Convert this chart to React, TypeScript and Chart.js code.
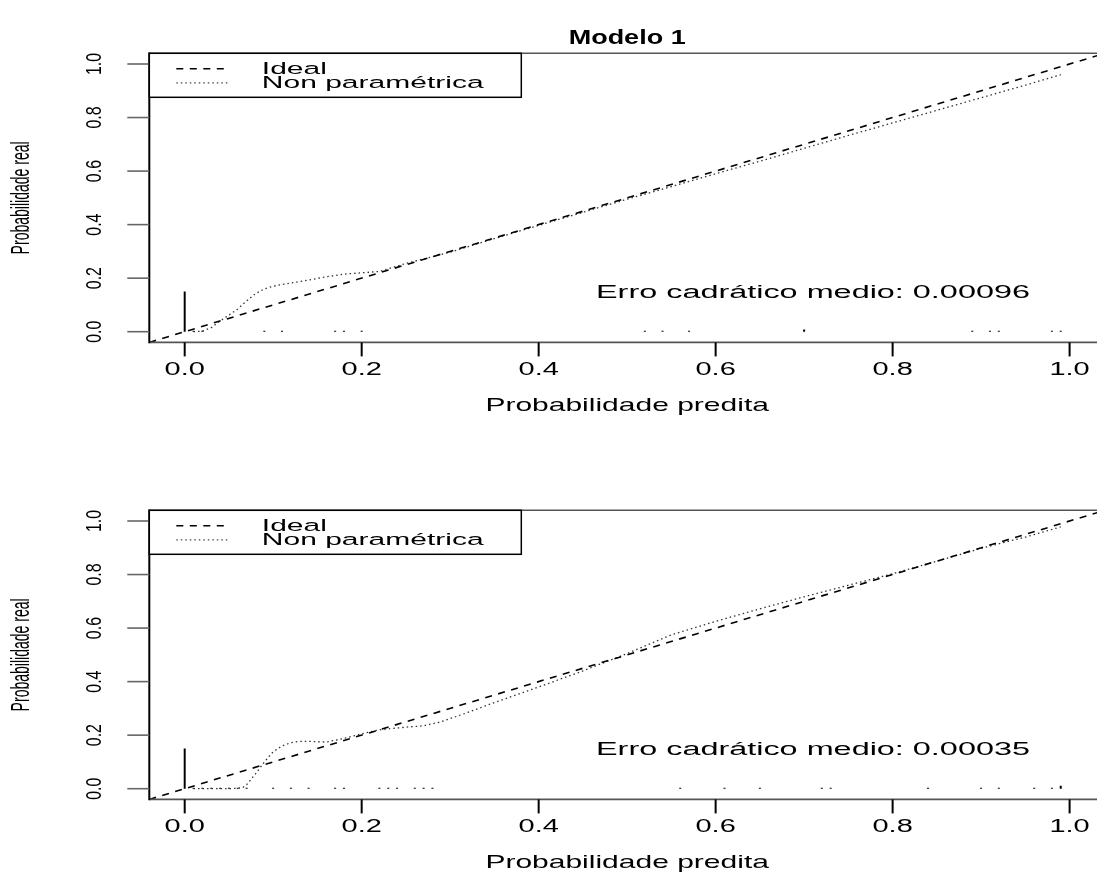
import React, { useEffect, useRef } from "react";
import { Chart, registerables } from "chart.js";

Chart.register(...registerables);

// ---- axis ticks ----
const X_TICKS = [0, 0.2, 0.4, 0.6, 0.8, 1.0];
const Y_TICKS = [0, 0.2, 0.4, 0.6, 0.8, 1.0];
const TICK_LABELS = ["0.0", "0.2", "0.4", "0.6", "0.8", "1.0"];

// ---- reference diagonal (y = x) ----
const IDEAL_X = [-0.04, 1.1];

// ---- Modelo 1: non-parametric calibration curve ----
const M1_CURVE_X = [0.01, 0.02, 0.03, 0.04, 0.05, 0.06, 0.07, 0.08, 0.09, 0.1, 0.12, 0.14, 0.16, 0.18, 0.2, 0.22, 0.25, 0.3, 0.35, 0.4, 0.45, 0.5, 0.55, 0.6, 0.65, 0.7, 0.75, 0.8, 0.85, 0.9, 0.95, 0.99];
const M1_CURVE_Y = [0.0, 0.002, 0.015, 0.04, 0.062, 0.085, 0.115, 0.142, 0.16, 0.17, 0.182, 0.193, 0.205, 0.215, 0.22, 0.225, 0.255, 0.297, 0.348, 0.397, 0.446, 0.495, 0.542, 0.59, 0.637, 0.685, 0.733, 0.78, 0.827, 0.874, 0.921, 0.96];
// distribution of predicted probabilities (bin start, count)
const M1_SPIKE_X = [0, 0.01, 0.02, 0.09, 0.11, 0.17, 0.18, 0.2, 0.52, 0.54, 0.57, 0.7, 0.89, 0.91, 0.92, 0.98, 0.99];
const M1_SPIKE_N = [38, 1, 1, 1, 1, 1, 1, 1, 1, 1, 1, 2, 1, 1, 1, 1, 1];
const M1_ERROR = "0.00096";

// ---- Modelo 2 ----
const M2_CURVE_X = [0.01, 0.03, 0.05, 0.065, 0.07, 0.08, 0.09, 0.1, 0.11, 0.12, 0.13, 0.14, 0.16, 0.18, 0.2, 0.22, 0.25, 0.27, 0.29, 0.32, 0.35, 0.4, 0.45, 0.5, 0.55, 0.6, 0.65, 0.7, 0.75, 0.8, 0.85, 0.9, 0.95, 0.99];
const M2_CURVE_Y = [0.0, 0.0, 0.0, 0.003, 0.015, 0.055, 0.1, 0.138, 0.16, 0.172, 0.177, 0.177, 0.174, 0.188, 0.205, 0.22, 0.23, 0.235, 0.25, 0.285, 0.322, 0.38, 0.44, 0.505, 0.575, 0.625, 0.672, 0.717, 0.76, 0.803, 0.85, 0.898, 0.94, 0.978];
const M2_SPIKE_X = [0, 0.01, 0.02, 0.03, 0.04, 0.05, 0.06, 0.07, 0.1, 0.12, 0.14, 0.17, 0.18, 0.22, 0.23, 0.24, 0.26, 0.27, 0.28, 0.56, 0.61, 0.65, 0.72, 0.73, 0.84, 0.9, 0.92, 0.96, 0.98, 0.99];
const M2_SPIKE_N = [40, 1, 1, 1, 1, 1, 1, 1, 1, 1, 1, 1, 1, 1, 1, 1, 1, 1, 1, 1, 1, 1, 1, 1, 1, 1, 1, 1, 1, 3];
const M2_ERROR = "0.00035";

const LEGEND_LABELS = ["Ideal", "Non paramétrica"];
const X_TITLE = "Probabilidade predita";
const Y_TITLE = "Probabilidade real";
const ERROR_LABEL = "Erro cadrático medio: ";
const ERROR_POS = { x: 0.71, y: 0.145 };
const SPIKE_FRAC = 0.15;

// ---- layout ----
const W = 1097;
const H = 436;
const PLOT_LEFT = 149.3;
const PX_PER_UNIT = 884.9;
const X_MIN = -0.04;
const X_MAX = X_MIN + (W - PLOT_LEFT) / PX_PER_UNIT;
const FONT = '"Liberation Sans", Arial, Helvetica, sans-serif';

type PanelSpec = {
  title?: string;
  curveX: number[];
  curveY: number[];
  spikeX: number[];
  spikeN: number[];
  error: string;
  plotTop: number;
  plotBottom: number;
};

function drawText(
  ctx: CanvasRenderingContext2D,
  s: string,
  x: number,
  y: number,
  size: number,
  along: number,
  across: number,
  opts: { bold?: boolean; rot?: boolean; align?: CanvasTextAlign } = {}
) {
  ctx.save();
  ctx.translate(x, y);
  if (opts.rot) ctx.rotate(-Math.PI / 2);
  ctx.scale(along, across);
  ctx.font = `${opts.bold ? "bold " : ""}${size}px ${FONT}`;
  ctx.textAlign = opts.align || "center";
  ctx.textBaseline = "middle";
  ctx.fillStyle = "#000";
  ctx.fillText(s, 0, 0);
  ctx.restore();
}

function framePlugin(spec: PanelSpec) {
  return {
    id: "frame",
    afterDraw(chart: any) {
      const ctx: CanvasRenderingContext2D = chart.ctx;
      const { left, top, bottom } = chart.chartArea;
      const xs = chart.scales.x;
      const ys = chart.scales.y;
      const plotRight = left + 1.08 * PX_PER_UNIT;
      const cx = (left + plotRight) / 2;

      // box (right side lies beyond the canvas)
      ctx.save();
      ctx.strokeStyle = "#555";
      ctx.lineWidth = 1.6;
      ctx.beginPath();
      ctx.moveTo(left, top);
      ctx.lineTo(W, top);
      ctx.moveTo(left, bottom);
      ctx.lineTo(W, bottom);
      ctx.stroke();
      ctx.strokeStyle = "#000";
      ctx.lineWidth = 2;
      ctx.beginPath();
      ctx.moveTo(left, top - 0.8);
      ctx.lineTo(left, bottom + 0.8);
      ctx.stroke();

      // x ticks
      ctx.strokeStyle = "#000";
      ctx.lineWidth = 2;
      X_TICKS.forEach((v, i) => {
        const px = xs.getPixelForValue(v);
        ctx.beginPath();
        ctx.moveTo(px, bottom);
        ctx.lineTo(px, bottom + 14);
        ctx.stroke();
        drawText(ctx, TICK_LABELS[i], px, bottom + 27, 29, 1, 0.64);
      });
      // y ticks
      ctx.strokeStyle = "#666";
      ctx.lineWidth = 1.6;
      Y_TICKS.forEach((v, i) => {
        const py = ys.getPixelForValue(v);
        ctx.beginPath();
        ctx.moveTo(left - 22, py);
        ctx.lineTo(left, py);
        ctx.stroke();
        drawText(ctx, TICK_LABELS[i], left - 54, py, 21.5, 0.74, 1, { rot: true });
      });
      ctx.restore();

      // axis titles
      drawText(ctx, X_TITLE, cx, bottom + 63, 30, 1, 0.62);
      drawText(ctx, Y_TITLE, left - 127, (top + bottom) / 2, 25.5, 0.55, 1, { rot: true });

      // main title
      if (spec.title) drawText(ctx, spec.title, cx, top - 15, 27, 1, 0.74, { bold: true });

      // error annotation
      drawText(
        ctx,
        ERROR_LABEL + spec.error,
        xs.getPixelForValue(ERROR_POS.x),
        ys.getPixelForValue(ERROR_POS.y),
        32.4,
        1,
        0.58
      );

      // legend
      const lw = 372;
      const lh = 44;
      ctx.save();
      ctx.fillStyle = "#fff";
      ctx.fillRect(left, top, lw, lh);
      ctx.strokeStyle = "#000";
      ctx.lineWidth = 1.5;
      ctx.strokeRect(left, top, lw, lh);
      const r1 = top + 15.5;
      const r2 = top + 29.5;
      ctx.strokeStyle = "#000";
      ctx.lineWidth = 1.5;
      ctx.setLineDash([7, 6.5]);
      ctx.beginPath();
      ctx.moveTo(left + 27, r1);
      ctx.lineTo(left + 81, r1);
      ctx.stroke();
      ctx.strokeStyle = "#444";
      ctx.lineWidth = 1.3;
      ctx.setLineDash([1.5, 3]);
      ctx.beginPath();
      ctx.moveTo(left + 27, r2);
      ctx.lineTo(left + 81, r2);
      ctx.stroke();
      ctx.restore();
      drawText(ctx, LEGEND_LABELS[0], left + 112.5, r1, 30, 1, 0.58, { align: "left" });
      drawText(ctx, LEGEND_LABELS[1], left + 112.5, r2, 30, 1, 0.58, { align: "left" });
    },
  };
}

function Panel({ spec, top }: { spec: PanelSpec; top: number }) {
  const ref = useRef<HTMLCanvasElement>(null);
  useEffect(() => {
    const canvas = ref.current;
    if (!canvas) return;
    const maxN = Math.max(...spec.spikeN);
    const spikeData: { x: number; y: number | null }[] = [];
    spec.spikeX.forEach((x, i) => {
      spikeData.push({ x, y: 0 }, { x, y: (SPIKE_FRAC * spec.spikeN[i]) / maxN }, { x, y: null });
    });
    const chart = new Chart(canvas, {
      type: "scatter",
      data: {
        datasets: [
          {
            label: LEGEND_LABELS[0],
            data: IDEAL_X.map((v) => ({ x: v, y: v })),
            showLine: true,
            borderColor: "#000",
            borderWidth: 1.6,
            borderDash: [7, 6.5],
            pointRadius: 0,
          },
          {
            label: LEGEND_LABELS[1],
            data: spec.curveX.map((x, i) => ({ x, y: spec.curveY[i] })),
            showLine: true,
            borderColor: "#333",
            borderWidth: 1.3,
            borderDash: [1.5, 3],
            pointRadius: 0,
          },
          {
            label: "spikes",
            data: spikeData as any,
            showLine: true,
            spanGaps: false,
            borderColor: "#000",
            borderWidth: 2,
            pointRadius: 0,
          },
        ],
      },
      options: {
        responsive: false,
        animation: false,
        devicePixelRatio: 1,
        layout: { padding: { top: spec.plotTop, left: 0, right: 0, bottom: 0 } },
        plugins: { legend: { display: false }, tooltip: { enabled: false }, title: { display: false } },
        scales: {
          x: {
            type: "linear",
            min: X_MIN,
            max: X_MAX,
            grid: { display: false },
            border: { display: false },
            ticks: { display: false },
            afterFit: (s: any) => {
              s.height = H - spec.plotBottom;
            },
          },
          y: {
            type: "linear",
            min: -0.04,
            max: 1.04,
            grid: { display: false },
            border: { display: false },
            ticks: { display: false },
            afterFit: (s: any) => {
              s.width = PLOT_LEFT;
            },
          },
        },
      } as any,
      plugins: [framePlugin(spec)],
    });
    return () => chart.destroy();
  }, [spec]);
  return (
    <canvas
      ref={ref}
      width={W}
      height={H}
      style={{ position: "absolute", left: 0, top, width: W, height: H }}
    />
  );
}

const PANEL_1: PanelSpec = {
  title: "Modelo 1",
  curveX: M1_CURVE_X,
  curveY: M1_CURVE_Y,
  spikeX: M1_SPIKE_X,
  spikeN: M1_SPIKE_N,
  error: M1_ERROR,
  plotTop: 53.3,
  plotBottom: 342.4,
};

const PANEL_2: PanelSpec = {
  curveX: M2_CURVE_X,
  curveY: M2_CURVE_Y,
  spikeX: M2_SPIKE_X,
  spikeN: M2_SPIKE_N,
  error: M2_ERROR,
  plotTop: 74.3,
  plotBottom: 363.4,
};

export default function App() {
  return (
    <div style={{ position: "fixed", left: 0, top: 0, width: W, height: 872, background: "#fff", overflow: "hidden" }}>
      <Panel spec={PANEL_1} top={0} />
      <Panel spec={PANEL_2} top={436} />
    </div>
  );
}
